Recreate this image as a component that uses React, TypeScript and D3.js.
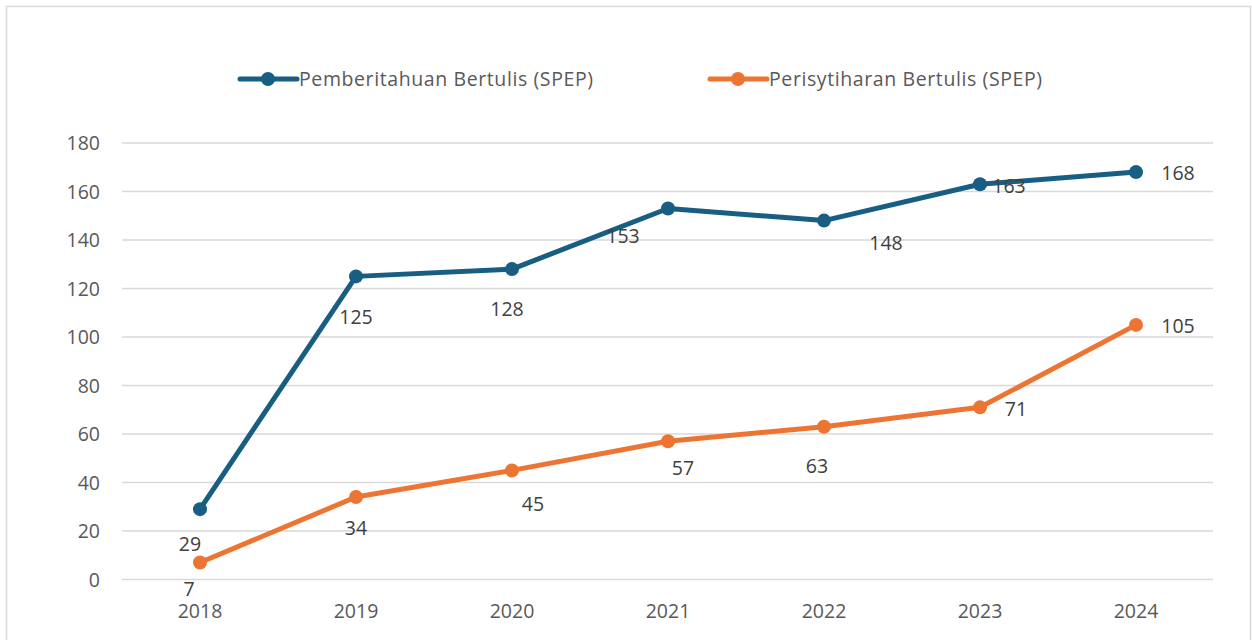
import * as d3 from 'd3'

const years = ['2018', '2019', '2020', '2021', '2022', '2023', '2024']
const pemberitahuan = [29, 125, 128, 153, 148, 163, 168]
const perisytiharan = [7, 34, 45, 57, 63, 71, 105]
const yTicks = [0, 20, 40, 60, 80, 100, 120, 140, 160, 180]

// label offsets (dx, dy) from each point, mimicking the Excel placement
const blueLabelOffsets: [number, number][] = [
  [-10, 35], [0, 41], [-5, 40], [-45, 28], [62, 22], [29, 2], [42, 1],
]
const orangeLabelOffsets: [number, number][] = [
  [-11, 26], [0, 31], [21, 34], [15, 27], [-7, 39], [36, 2], [42, 1],
]

const W = 1252
const H = 640
const BLUE = '#175e82'
const ORANGE = '#ed7533'
const FONT = '"Open Sans", "Noto Sans", sans-serif'
const FS = 19.5

export default function App() {
  const x = d3.scalePoint<string>().domain(years).range([200, 1136])
  const y = d3.scaleLinear().domain([0, 180]).range([579.5, 143])

  const line = d3.line<number>()
    .x((_, i) => x(years[i])!)
    .y(d => y(d))

  const series = [
    { name: 'Pemberitahuan Bertulis (SPEP)', values: pemberitahuan, color: BLUE, offsets: blueLabelOffsets, lx: 240 },
    { name: 'Perisytiharan Bertulis (SPEP)', values: perisytiharan, color: ORANGE, offsets: orangeLabelOffsets, lx: 710 },
  ]

  return (
    <svg width={W} height={H} style={{ position: 'absolute', left: 0, top: 0 }} fontFamily={FONT}>
      <rect x={0} y={0} width={W} height={H} fill="#fff" />
      <rect x={6.5} y={6.5} width={1244} height={660} fill="none" stroke="#d9d9d9" strokeWidth={1.5} />

      {yTicks.map(t => (
        <g key={t}>
          <line x1={122} x2={1213} y1={y(t)} y2={y(t)} stroke="#d9d9d9" strokeWidth={1.5} />
          <text x={100} y={y(t)} dy="0.36em" textAnchor="end" fontSize={FS} fill="#595959">{t}</text>
        </g>
      ))}

      {years.map(yr => (
        <text key={yr} x={x(yr)} y={618} textAnchor="middle" fontSize={FS} fill="#595959">{yr}</text>
      ))}

      {series.map(s => (
        <g key={s.name}>
          <path d={line(s.values) ?? ''} fill="none" stroke={s.color} strokeWidth={5} strokeLinejoin="round" />
          {s.values.map((v, i) => (
            <circle key={i} cx={x(years[i])} cy={y(v)} r={7} fill={s.color} />
          ))}
        </g>
      ))}

      {series.map(s => s.values.map((v, i) => (
        <text key={s.name + i} x={x(years[i])! + s.offsets[i][0]} y={y(v) + s.offsets[i][1]}
          dy="0.36em" textAnchor="middle" fontSize={FS} fill="#404040">{v}</text>
      )))}

      {series.map(s => (
        <g key={'leg' + s.name}>
          <line x1={s.lx} x2={s.lx + 57} y1={79} y2={79} stroke={s.color} strokeWidth={5} strokeLinecap="round" />
          <circle cx={s.lx + 28} cy={79} r={7} fill={s.color} />
          <text x={s.lx + 59} y={79} dy="0.36em" fontSize={FS} letterSpacing={0.6} fill="#595959">{s.name}</text>
        </g>
      ))}
    </svg>
  )
}
